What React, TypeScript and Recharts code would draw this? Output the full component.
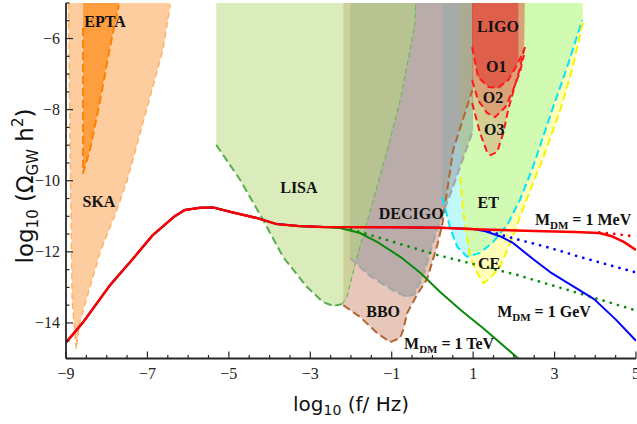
import React from 'react';
import { ComposedChart, Area, Line, XAxis, YAxis, ReferenceDot } from 'recharts';

type P = [number, number];

// ---- axis ticks ----
const X_TICKS = [-9, -8.5, -8, -7.5, -7, -6.5, -6, -5.5, -5, -4.5, -4, -3.5, -3, -2.5, -2, -1.5, -1, -0.5, 0, 0.5, 1, 1.5, 2, 2.5, 3, 3.5, 4, 4.5, 5];
const X_LABELED = [-9, -7, -5, -3, -1, 1, 3, 5];
const Y_TICKS = [-15, -14.5, -14, -13.5, -13, -12.5, -12, -11.5, -11, -10.5, -10, -9.5, -9, -8.5, -8, -7.5, -7, -6.5, -6, -5.5, -5];
const Y_LABELED = [-14, -12, -10, -8, -6];

// ---- detector regions (log10 f, log10 Omega h^2) ----
const skaRegion: P[] = [[-8.94, -4.8], [-8.9, -9], [-8.85, -13.35], [-8.75, -14.73], [-8.66, -13.97], [-8.16, -12.0], [-7.77, -10.88], [-7.5, -10.0], [-6.62, -6.32], [-6.44, -5.06], [-6.42, -4.8], [-8.94, -4.8]];
const skaEdge: P[] = [[-8.94, -5.0], [-8.9, -9], [-8.85, -13.35], [-8.75, -14.73], [-8.66, -13.97], [-8.16, -12.0], [-7.77, -10.88], [-7.5, -10.0], [-6.62, -6.32], [-6.44, -5.06]];

const eptaRegion: P[] = [[-8.58, -4.8], [-8.58, -9.78], [-8.41, -9.13], [-8.16, -7.73], [-7.92, -6.24], [-7.7, -5.06], [-7.68, -4.8], [-8.58, -4.8]];
const eptaEdge: P[] = [[-8.58, -5.7], [-8.58, -9.78], [-8.41, -9.13], [-8.16, -7.73], [-7.92, -6.24], [-7.7, -5.06]];

const lisaRegion: P[] = [[-5.31, -4.8], [-5.31, -8.99], [-4.72, -9.98], [-4.16, -11.1], [-3.67, -12.14], [-3.08, -12.99], [-2.69, -13.41], [-2.44, -13.52], [-2.22, -13.47], [-2.1, -13.27], [-1.85, -12.14], [-1.48, -10.65], [-1.11, -9.13], [-0.79, -7.73], [-0.55, -6.32], [-0.43, -5.56], [-0.41, -4.8], [-5.31, -4.8]];
const lisaEdgeLow: P[] = [[-5.31, -8.99], [-4.72, -9.98], [-4.16, -11.1], [-3.67, -12.14], [-3.08, -12.99], [-2.69, -13.41], [-2.44, -13.52], [-2.22, -13.47]];
const lisaEdgeHigh: P[] = [[-2.22, -13.47], [-2.1, -13.27], [-1.85, -12.14], [-1.48, -10.65], [-1.11, -9.13], [-0.79, -7.73], [-0.55, -6.32], [-0.43, -5.56], [-0.41, -5.0]];

const bboRegion: P[] = [[-2.19, -4.8], [-2.19, -13.5], [-1.78, -13.83], [-1.36, -14.28], [-1.04, -14.54], [-0.79, -14.42], [-0.72, -14.2], [-0.62, -13.72], [-0.38, -13.21], [-0.13, -12.76], [0.12, -11.81], [0.24, -11.24], [0.51, -9.13], [0.98, -7.45], [0.98, -4.8], [-2.19, -4.8]];
const bboEdge: P[] = [[-2.19, -13.5], [-1.78, -13.83], [-1.36, -14.28], [-1.04, -14.54], [-0.79, -14.42], [-0.72, -14.2], [-0.62, -13.72], [-0.38, -13.21], [-0.13, -12.76], [0.12, -11.81], [0.24, -11.24], [0.51, -9.13], [0.98, -7.45]];

const decigoRegion: P[] = [[-2.02, -4.8], [-2.02, -12.17], [-1.53, -12.68], [-0.94, -13.1], [-0.62, -13.27], [-0.45, -13.19], [-0.3, -12.85], [-0.2, -12.57], [-0.01, -11.81], [0.19, -11.13], [0.51, -10.15], [1.0, -8.57], [1.0, -4.8], [-2.02, -4.8]];
const decigoEdge: P[] = [[-2.02, -12.17], [-1.53, -12.68], [-0.94, -13.1], [-0.62, -13.27], [-0.45, -13.19], [-0.3, -12.85], [-0.2, -12.57], [-0.01, -11.81], [0.19, -11.13], [0.51, -10.15], [1.0, -8.57]];

const etRegion: P[] = [[0.24, -4.8], [0.24, -10.46], [0.43, -11.3], [0.61, -11.86], [0.85, -12.14], [1.17, -12.03], [1.49, -11.72], [1.84, -11.24], [2.15, -10.54], [2.47, -9.61], [2.94, -8.01], [3.31, -6.8], [3.68, -5.48], [3.69, -4.8], [0.24, -4.8]];
const etEdge: P[] = [[0.24, -10.46], [0.43, -11.3], [0.61, -11.86], [0.85, -12.14], [1.17, -12.03], [1.49, -11.72], [1.84, -11.24], [2.15, -10.54], [2.47, -9.61], [2.94, -8.01], [3.31, -6.8], [3.68, -5.48]];

const ceRegion: P[] = [[0.68, -4.8], [0.68, -9.89], [0.75, -10.82], [0.85, -11.58], [0.93, -12.17], [1.1, -12.59], [1.25, -12.88], [1.42, -12.74], [1.66, -12.43], [1.91, -11.75], [2.15, -11.02], [2.47, -10.06], [2.7, -9.42], [3.14, -8.01], [3.43, -6.88], [3.7, -5.53], [3.71, -4.8], [0.68, -4.8]];
const ceEdge: P[] = [[0.68, -9.89], [0.75, -10.82], [0.85, -11.58], [0.93, -12.17], [1.1, -12.59], [1.25, -12.88], [1.42, -12.74], [1.66, -12.43], [1.91, -11.75], [2.15, -11.02], [2.47, -10.06], [2.7, -9.42], [3.14, -8.01], [3.43, -6.88], [3.7, -5.53]];

const o1Region: P[] = [[0.975, -4.8], [0.975, -6.24], [1.12, -7.08], [1.37, -7.36], [1.61, -7.39], [1.86, -7.17], [2.08, -6.74], [2.11, -6.6], [2.11, -4.8], [0.975, -4.8]];
const o1Edge: P[] = [[0.975, -6.24], [1.12, -7.08], [1.37, -7.36], [1.61, -7.39], [1.86, -7.17], [2.08, -6.74], [2.28, -6.24]];
const o2Region: P[] = [[0.975, -4.8], [0.975, -7.17], [1.12, -7.73], [1.34, -8.09], [1.54, -8.21], [1.79, -7.93], [1.98, -7.45], [2.15, -6.94], [2.25, -6.46], [2.27, -4.8], [0.975, -4.8]];
const o2Edge: P[] = [[0.975, -7.17], [1.12, -7.73], [1.34, -8.09], [1.54, -8.21], [1.79, -7.93], [1.98, -7.45], [2.15, -6.94], [2.25, -6.46]];
const o3Region: P[] = [[0.975, -4.8], [0.975, -7.81], [1.17, -8.66], [1.34, -9.19], [1.42, -9.28], [1.59, -9.19], [1.74, -8.66], [1.86, -8.01], [2.01, -7.39], [2.15, -6.83], [2.25, -6.32], [2.27, -4.8], [0.975, -4.8]];
const o3Edge: P[] = [[0.975, -7.81], [1.17, -8.66], [1.34, -9.19], [1.42, -9.28], [1.59, -9.19], [1.74, -8.66], [1.86, -8.01], [2.01, -7.39], [2.15, -6.83], [2.25, -6.32]];

// ---- GW spectra ----
const sharedRise: P[] = [[-9, -14.55], [-8.58, -13.98], [-7.92, -12.94], [-7.36, -12.2], [-6.87, -11.53], [-6.33, -11.0], [-6.08, -10.82], [-5.71, -10.76], [-5.39, -10.75], [-4.95, -10.88], [-4.31, -11.05], [-3.82, -11.22], [-3.3, -11.27], [-2.7, -11.3]];
const mevTail: P[] = [[-1, -11.31], [0.2, -11.32], [1.2, -11.37], [2.5, -11.41], [3.5, -11.44], [4.1, -11.47], [4.4, -11.56], [4.7, -11.72], [5, -11.95]];
const gevTail: P[] = [[-1, -11.31], [0.2, -11.32], [1.0, -11.36], [1.3, -11.42], [1.66, -11.56], [1.98, -11.75], [2.47, -12.2], [2.93, -12.6], [3.46, -12.97], [3.97, -13.33], [4.5, -13.9], [5, -14.5]];
const tevTail: P[] = [[-2.27, -11.33], [-1.78, -11.47], [-1.36, -11.72], [-0.79, -12.14], [-0.3, -12.59], [0.19, -13.13], [0.7, -13.64], [1.27, -14.17], [2.13, -15.02]];
const mevDotted: P[] = [[4.1, -11.45], [4.5, -11.5], [5, -11.57]];
const gevDotted: P[] = [[1.4, -11.43], [2.08, -11.65], [2.89, -11.89], [3.73, -12.18], [5, -12.58]];
const tevDotted: P[] = [[-2.0, -11.37], [-1.53, -11.53], [0.12, -12.09], [2.08, -12.65], [3.73, -13.21], [5, -13.65]];

// ---- text annotations ----
const detectorLabels: { text: string; x: number; y: number }[] = [
  { text: 'EPTA', x: -8.04, y: -5.51 },
  { text: 'SKA', x: -8.19, y: -10.57 },
  { text: 'LISA', x: -3.28, y: -10.2 },
  { text: 'DECIGO', x: -0.52, y: -10.91 },
  { text: 'BBO', x: -1.21, y: -13.69 },
  { text: 'LIGO', x: 1.61, y: -5.65 },
  { text: 'O1', x: 1.57, y: -6.8 },
  { text: 'O2', x: 1.49, y: -7.67 },
  { text: 'O3', x: 1.52, y: -8.57 },
  { text: 'ET', x: 1.37, y: -10.6 },
  { text: 'CE', x: 1.39, y: -12.34 },
];
const massLabels: { mass: string; x: number; y: number }[] = [
  { mass: '1 MeV', x: 3.7, y: -11.08 },
  { mass: '1 GeV', x: 2.74, y: -13.69 },
  { mass: '1 TeV', x: 0.41, y: -14.59 },
];

const toPts = (a: P[]) => a.map(([x, y]) => ({ x, y }));

const TICK_COLOR = '#262626';
const TICK_FONT = 'Liberation Serif';
const fmt = (v: number) => (v < 0 ? '\u2212' + Math.abs(v) : String(v));

const BottomTick = (props: any) => {
  const { x, y, payload } = props;
  const v = payload.value;
  const major = X_LABELED.includes(v);
  return (
    <g>
      <line x1={x} x2={x} y1={y} y2={y - (major ? 7 : 3.5)} stroke={TICK_COLOR} strokeWidth={1.2} />
      {major && (
        <text x={x} y={y + 20} textAnchor="middle" fontFamily={TICK_FONT} fontSize={16} fill="#222">{fmt(v)}</text>
      )}
    </g>
  );
};
const TopTick = (props: any) => {
  const { x, y, payload } = props;
  const major = X_LABELED.includes(payload.value);
  return <line x1={x} x2={x} y1={y} y2={y + (major ? 7 : 3.5)} stroke={TICK_COLOR} strokeWidth={1.2} />;
};
const LeftTick = (props: any) => {
  const { x, y, payload } = props;
  const v = payload.value;
  const major = Y_LABELED.includes(v);
  return (
    <g>
      <line x1={x} x2={x + (major ? 7 : 3.5)} y1={y} y2={y} stroke={TICK_COLOR} strokeWidth={1.2} />
      {major && (
        <text x={x - 6} y={y + 5.5} textAnchor="end" fontFamily={TICK_FONT} fontSize={16} fill="#222">{fmt(v)}</text>
      )}
    </g>
  );
};
const RightTick = (props: any) => {
  const { x, y, payload } = props;
  const major = Y_LABELED.includes(payload.value);
  return <line x1={x} x2={x - (major ? 7 : 3.5)} y1={y} y2={y} stroke={TICK_COLOR} strokeWidth={1.2} />;
};

const YTitle = () => (
  <text transform="translate(33,186) rotate(-90)" textAnchor="middle" fontFamily="DejaVu Sans" fontSize={23} fill="#111">
    {'log'}
    <tspan fontSize={15} dy={5}>{'10'}</tspan>
    <tspan dy={-5}>{' (\u03a9'}</tspan>
    <tspan fontSize={15} dy={5}>{'GW'}</tspan>
    <tspan dy={-5}>{' h'}</tspan>
    <tspan fontSize={15} dy={-10}>{'2'}</tspan>
    <tspan dy={10}>{')'}</tspan>
  </text>
);
const XTitle = () => (
  <text x={351} y={411} textAnchor="middle" fontFamily="DejaVu Sans" fontSize={20} fill="#111">
    {'log'}
    <tspan fontSize={14} dy={4}>{'10'}</tspan>
    <tspan dy={-4}>{' (f/ Hz)'}</tspan>
  </text>
);

const axisLine = { stroke: '#262626', strokeWidth: 1.8 };

export default function App() {
  const region = (key: string, pts: P[], fill: string, op: number) => (
    <Area key={key} data={toPts(pts)} dataKey="y" xAxisId="b" yAxisId="l" type="linear" stroke="none"
      fill={fill} fillOpacity={op} dot={false} activeDot={false} isAnimationActive={false} />
  );
  const path = (key: string, pts: P[], color: string, width: number, dash?: string, cap: 'butt' | 'round' = 'butt') => (
    <Line key={key} data={toPts(pts)} dataKey="y" xAxisId="b" yAxisId="l" type="linear" stroke={color}
      strokeWidth={width} strokeDasharray={dash} strokeLinecap={cap} strokeLinejoin="round"
      dot={false} activeDot={false} isAnimationActive={false} />
  );

  return (
    <div style={{ position: 'absolute', left: 0, top: 0 }}>
      <ComposedChart width={637} height={424} margin={{ top: 3, right: 1, bottom: 0, left: 0 }}>
        <XAxis xAxisId="b" type="number" dataKey="x" domain={[-9, 5]} allowDataOverflow ticks={X_TICKS} interval={0}
          height={65.5} tickSize={0} tickMargin={0} tickLine={false} axisLine={axisLine} tick={BottomTick}
          label={{ content: () => <XTitle /> }} />
        <XAxis xAxisId="t" orientation="top" type="number" dataKey="x" domain={[-9, 5]} allowDataOverflow ticks={X_TICKS}
          interval={0} height={0} tickSize={0} tickMargin={0} tickLine={false} axisLine={axisLine} tick={TopTick} />
        <YAxis yAxisId="l" type="number" domain={[-15, -5]} allowDataOverflow ticks={Y_TICKS} interval={0} width={66}
          tickSize={0} tickMargin={0} tickLine={false} axisLine={axisLine} tick={LeftTick}
          label={{ content: () => <YTitle /> }} />
        <YAxis yAxisId="r" orientation="right" type="number" domain={[-15, -5]} allowDataOverflow ticks={Y_TICKS} interval={0}
          width={0} tickSize={0} tickMargin={0} tickLine={false} axisLine={axisLine} tick={RightTick} />

        {region('ska', skaRegion, '#fb9a40', 0.5)}
        {region('epta', eptaRegion, '#ff8c1a', 0.72)}
        {region('et', etRegion, '#00e6e6', 0.25)}
        {region('ce', ceRegion, '#ffff00', 0.28)}
        {region('bbo', bboRegion, '#c88264', 0.45)}
        {region('decigo', decigoRegion, '#828c96', 0.45)}
        {region('lisa', lisaRegion, '#b5d97a', 0.5)}
        {region('o3', o3Region, '#e61e1e', 0.2)}
        {region('o2', o2Region, '#e61e1e', 0.25)}
        {region('o1', o1Region, '#e61e1e', 0.5)}

        {path('skaE', skaEdge, '#ffb366', 1.5, '6 4')}
        {path('eptaE', eptaEdge, '#ff8000', 2, '8 4')}
        {path('lisaE1', lisaEdgeLow, '#5aaa4f', 2, '8 4')}
        {path('lisaE2', lisaEdgeHigh, '#6cb85f', 1.2, '5 3')}
        {path('bboE', bboEdge, '#b5652f', 2, '8 4')}
        {path('decigoE', decigoEdge, '#a6a6a6', 2.2, '8 4')}
        {path('etE', etEdge, '#00e5ff', 2, '8 4')}
        {path('ceE', ceEdge, '#f5f500', 2, '8 4')}
        {path('o3E', o3Edge, '#ff1a1a', 2, '7 4')}
        {path('o2E', o2Edge, '#ff1a1a', 2, '7 4')}
        {path('o1E', o1Edge, '#ff1a1a', 2, '7 4')}

        {path('tevD', tevDotted, '#0a8a0a', 2.8, '0 7.5', 'round')}
        {path('gevD', gevDotted, '#0000ff', 2.8, '0 7.5', 'round')}
        {path('mevD', mevDotted, '#ff0000', 2.8, '0 7.5', 'round')}
        {path('tev', [...sharedRise, ...tevTail], '#0a8a0a', 2)}
        {path('gev', [...sharedRise, ...gevTail], '#0000ff', 2)}
        {path('mev', [...sharedRise, ...mevTail], '#ff0000', 2.5)}

        {detectorLabels.map((d) => (
          <ReferenceDot key={d.text} xAxisId="b" yAxisId="l" x={d.x} y={d.y} r={0}
            shape={(p: any) => (
              <text x={p.cx} y={p.cy + 5.5} textAnchor="middle" fontFamily="Liberation Serif" fontWeight="bold" fontSize={16} fill="#111">{d.text}</text>
            )} />
        ))}
        {massLabels.map((m) => (
          <ReferenceDot key={m.mass} xAxisId="b" yAxisId="l" x={m.x} y={m.y} r={0}
            shape={(p: any) => (
              <text x={p.cx} y={p.cy + 5.5} textAnchor="middle" fontFamily="Liberation Serif" fontWeight="bold" fontSize={16} fill="#111">
                {'M'}
                <tspan fontSize={11} dy={4}>{'DM'}</tspan>
                <tspan dy={-4}>{' = ' + m.mass}</tspan>
              </text>
            )} />
        ))}
      </ComposedChart>
    </div>
  );
}
